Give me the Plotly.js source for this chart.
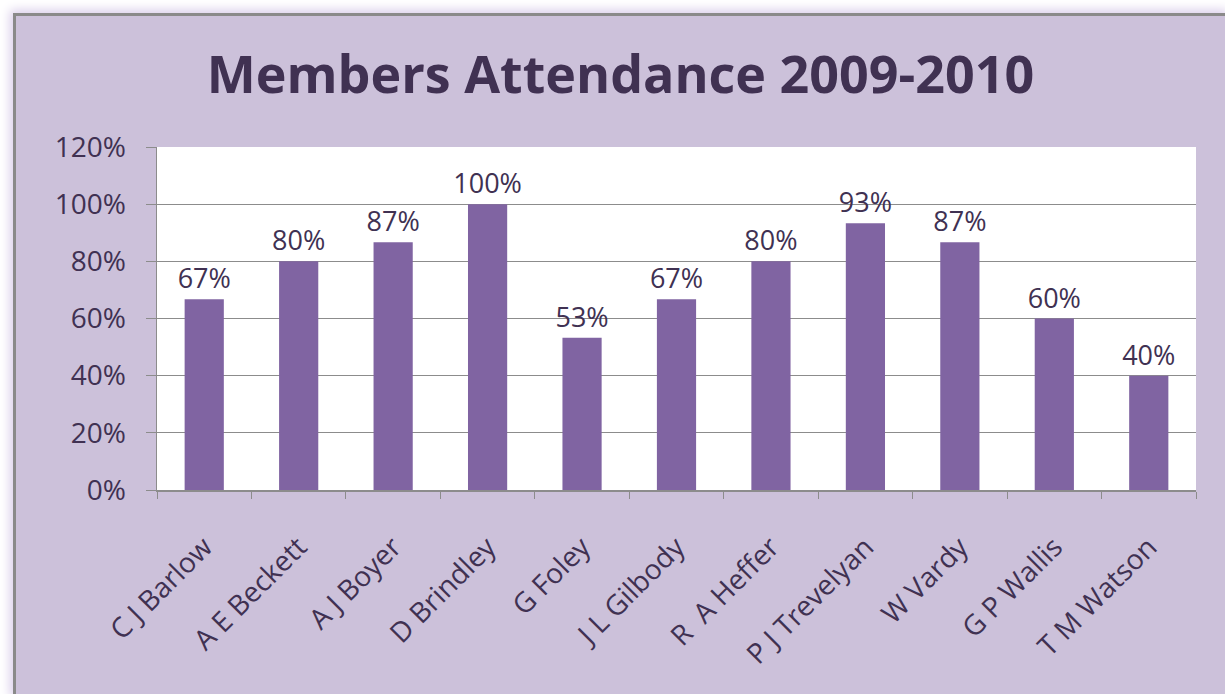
<!DOCTYPE html>
<html>
<head>
<meta charset="utf-8">
<script src="https://cdn.plot.ly/plotly-3.0.1.min.js"></script>
<style>
  html, body { margin: 0; padding: 0; background: #ffffff; overflow: hidden; }
  #wrap { position: relative; width: 1225px; height: 694px; overflow: hidden; background: #ffffff; }
  #chart { position: absolute; left: 13px; top: 13px; width: 1209px; height: 678px;
           border-left: 3px solid #8a8a8a; border-top: 3px solid #8a8a8a;
           box-shadow: 0 0 10px 3px #d9cdea; }
</style>
</head>
<body>
<div id="wrap"><div id="chart"></div></div>
<script>
const members = ["C J Barlow", "A E Beckett", "A J Boyer", "D Brindley", "G Foley", "J L Gilbody",
                 "R  A Heffer", "P J Trevelyan", "W Vardy", "G P Wallis", "T M Watson"];
const attendance = [0.667, 0.8, 0.867, 1.0, 0.533, 0.667, 0.8, 0.933, 0.867, 0.6, 0.4];
const yTickVals = [0, 0.2, 0.4, 0.6, 0.8, 1.0, 1.2];
const chartTitle = "Members Attendance 2009-2010";

const textColor = "#403152";
const gridColor = "#8c8c8c";
const fontFamily = "'Open Sans', 'Noto Sans', sans-serif";

const trace = {
  type: "bar",
  x: members,
  y: attendance,
  marker: { color: "#8064a2" },
  texttemplate: "%{y:.0%}",
  textposition: "outside",
  constraintext: "none",
  cliponaxis: false,
  textfont: { family: fontFamily, size: 27, color: textColor },
  hoverinfo: "skip"
};

const layout = {
  width: 1209,
  height: 678,
  paper_bgcolor: "#ccc1da",
  plot_bgcolor: "#ffffff",
  margin: { l: 141, r: 29, t: 131, b: 204 },
  bargap: 0.585,
  showlegend: false,
  title: {
    text: chartTitle,
    x: 0.5, xref: "container", xanchor: "center",
    y: 0.913, yref: "container", yanchor: "middle",
    font: { family: fontFamily, size: 52, color: textColor, weight: "bold" }
  },
  xaxis: {
    type: "category",
    tickangle: -45,
    tickson: "boundaries",
    ticks: "outside",
    ticklen: 7,
    tickcolor: gridColor,
    showline: true,
    linecolor: gridColor,
    linewidth: 1.5,
    showgrid: false,
    ticklabelstandoff: 28,
    tickfont: { family: fontFamily, size: 28, color: textColor }
  },
  yaxis: {
    range: [0, 1.2],
    tickvals: yTickVals,
    tickformat: ".0%",
    ticks: "outside",
    ticklen: 10,
    tickcolor: gridColor,
    showline: true,
    linecolor: gridColor,
    linewidth: 1.5,
    showgrid: true,
    gridcolor: gridColor,
    gridwidth: 1,
    zeroline: false,
    ticklabelstandoff: 14,
    tickfont: { family: fontFamily, size: 28, color: textColor }
  }
};

Plotly.newPlot("chart", [trace], layout, { displayModeBar: false, staticPlot: true });
</script>
</body>
</html>
